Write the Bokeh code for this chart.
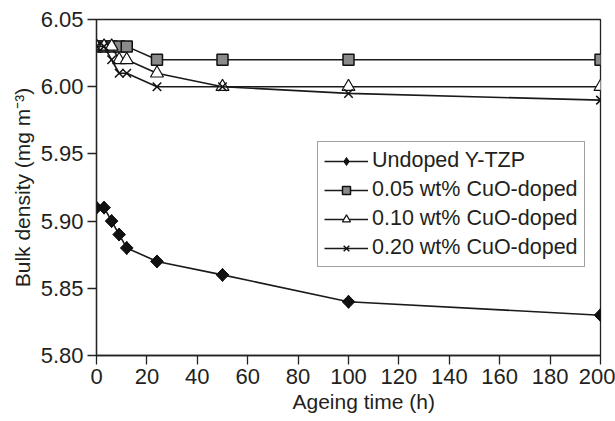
import math
from bokeh.plotting import figure
from bokeh.models import Legend, LegendItem, FixedTicker, Title
from bokeh.embed import file_html
from bokeh.resources import INLINE

# Data
times = [0, 3, 6, 9, 12, 24, 50, 100, 200]
undoped = [5.91, 5.91, 5.90, 5.89, 5.88, 5.87, 5.86, 5.84, 5.83]
cuo_005 = [6.03, 6.03, 6.03, 6.03, 6.03, 6.02, 6.02, 6.02, 6.02]
cuo_010 = [6.03, 6.03, 6.03, 6.02, 6.02, 6.01, 6.00, 6.00, 6.00]
cuo_020 = [6.03, 6.03, 6.02, 6.01, 6.01, 6.00, 6.00, 5.995, 5.99]
labels = ["Undoped Y-TZP", "0.05 wt% CuO-doped", "0.10 wt% CuO-doped", "0.20 wt% CuO-doped"]
x_ticks = [0, 20, 40, 60, 80, 100, 120, 140, 160, 180, 200]
y_ticks = [5.80, 5.85, 5.90, 5.95, 6.00, 6.05]
x_title = "Ageing time (h)"
y_title = "Bulk density (mg m\u207b\u00b3)"

FONT = "Liberation Sans"
TXT = "#231f20"

p = figure(width=615, height=421, output_backend="svg", toolbar_location=None,
           x_range=(0, 200), y_range=(5.80, 6.05),
           min_border_left=96, min_border_right=15, min_border_top=19, min_border_bottom=66)
p.grid.visible = False
p.outline_line_color = "#222222"
p.outline_line_width = 1.3
p.background_fill_color = "white"
p.border_fill_color = "white"

for ax in (p.xaxis[0], p.yaxis[0]):
    ax.axis_line_color = "#222222"
    ax.axis_line_width = 1.3
    ax.major_tick_line_color = "#222222"
    ax.major_tick_line_width = 1.3
    ax.major_tick_in = 0
    ax.major_tick_out = 9
    ax.minor_tick_line_color = None
    ax.major_label_text_font = FONT
    ax.major_label_text_font_size = "22px"
    ax.major_label_text_color = TXT
    ax.axis_label_text_font = FONT
    ax.axis_label_text_font_size = "21px"
    ax.axis_label_text_font_style = "normal"
    ax.axis_label_text_color = TXT

p.xaxis.ticker = FixedTicker(ticks=x_ticks)
p.yaxis.ticker = FixedTicker(ticks=y_ticks)
p.yaxis.major_label_overrides = {v: f"{v:.2f}" for v in y_ticks}
p.xaxis.major_label_standoff = 4
p.yaxis.major_label_standoff = 4
p.yaxis.axis_label = y_title
p.yaxis.axis_label_standoff = 4

# x-axis title, slightly right of centre as in the original
p.add_layout(Title(text=x_title, align="left", offset=196, standoff=3,
                   text_font=FONT, text_font_size="21px", text_font_style="normal",
                   text_color=TXT), "below")

LC = "#1a1a1a"
l1 = p.line(times, undoped, line_color=LC, line_width=1.6)
d1 = p.scatter(times, undoped, marker="diamond", size=13, fill_color="#111111", line_color="#111111")
m1 = p.scatter(times, undoped, marker="square", size=9, angle=math.pi / 4,
               fill_color="#111111", line_color="#111111")
l2 = p.line(times, cuo_005, line_color=LC, line_width=1.6)
m2 = p.scatter(times, cuo_005, marker="square", size=11, fill_color="#8a8a8a", line_color="#111111", line_width=1.5)
l3 = p.line(times, cuo_010, line_color=LC, line_width=1.6)
m3 = p.scatter(times, cuo_010, marker="triangle", size=13, fill_color="white", line_color="#111111", line_width=1.2)
l4 = p.line(times, cuo_020, line_color=LC, line_width=1.6)
m4 = p.scatter(times, cuo_020, marker="x", size=12, line_color="#111111", line_width=1.5)

legend = Legend(items=[
    LegendItem(label=labels[0], renderers=[l1, d1]),
    LegendItem(label=labels[1], renderers=[l2, m2]),
    LegendItem(label=labels[2], renderers=[l3, m3]),
    LegendItem(label=labels[3], renderers=[l4, m4]),
], location=(221, 88))
legend.label_text_font = FONT
legend.label_text_font_size = "21.5px"
legend.label_text_color = TXT
legend.border_line_color = "#444444"
legend.border_line_width = 1.5
legend.padding = 6
legend.spacing = 4
legend.margin = 0
legend.glyph_width = 44
legend.glyph_height = 20
legend.label_height = 20
legend.label_standoff = 4
legend.background_fill_alpha = 1
p.add_layout(legend, "center")

open("out.html", "w").write(file_html(p, INLINE))
